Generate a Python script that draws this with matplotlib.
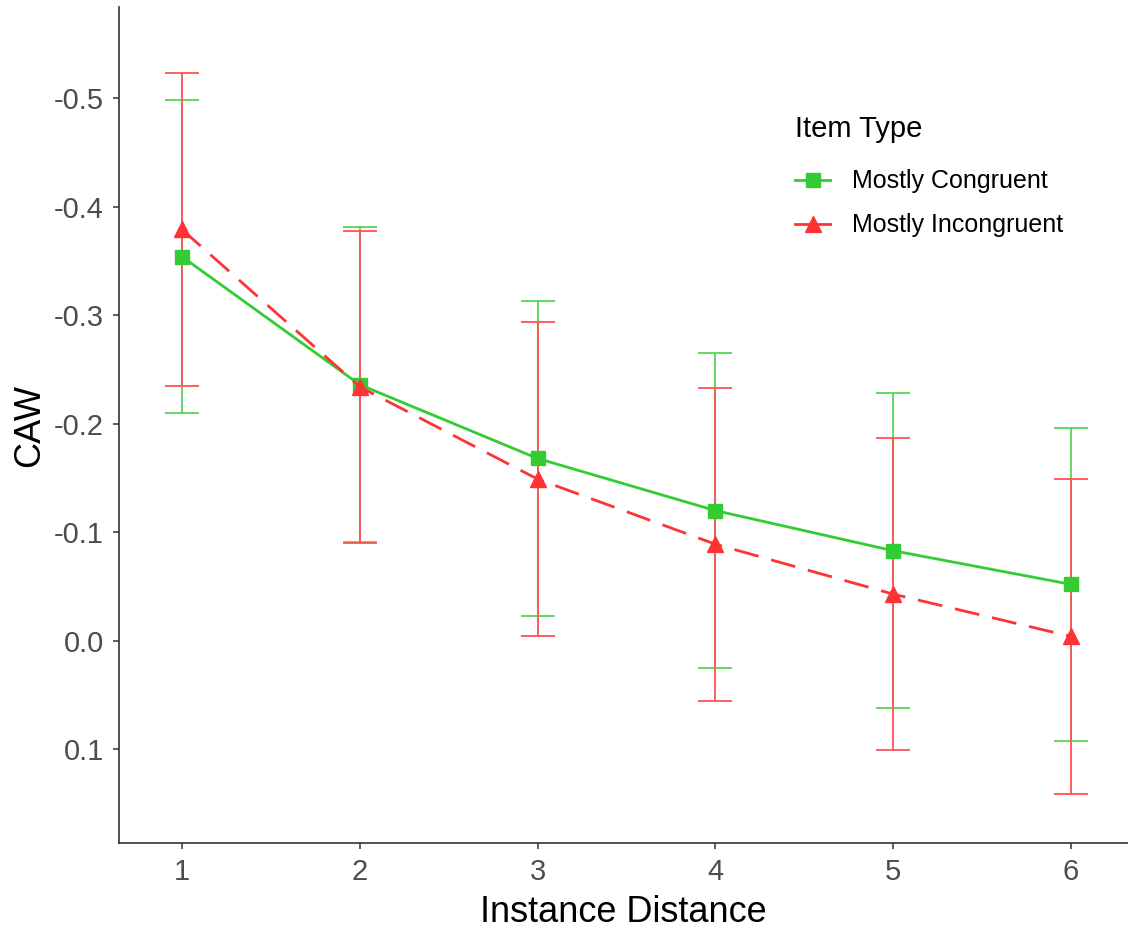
import numpy as np
import matplotlib
matplotlib.use("Agg")
import matplotlib.pyplot as plt
from matplotlib.lines import Line2D

plt.rcParams['font.family'] = ['Liberation Sans', 'DejaVu Sans']

# data (y axis is reversed)
distance = [1, 2, 3, 4, 5, 6]
tick_labels = ["-0.5", "-0.4", "-0.3", "-0.2", "-0.1", "0.0", "0.1"]
tick_values = [-0.5, -0.4, -0.3, -0.2, -0.1, 0.0, 0.1]

congruent_mean = [-0.354, -0.236, -0.168, -0.120, -0.083, -0.052]
congruent_err = [0.144, 0.145, 0.145, 0.145, 0.145, 0.144]
incongruent_mean = [-0.379, -0.234, -0.149, -0.089, -0.043, -0.004]
incongruent_err = [0.144, 0.144, 0.145, 0.144, 0.144, 0.145]

green = "#33CC33"
red = "#FF3333"
green_bar = "#55D555"
red_bar = "#FF5252"

fig = plt.figure(figsize=(11.28, 9.3), dpi=100)
ax = fig.add_axes([119/1128, 87/930, 1 - 119/1128, 836/930])

ax.errorbar(distance, congruent_mean, yerr=congruent_err, fmt="none",
            ecolor=green_bar, elinewidth=1.3, capsize=12, capthick=1.3)
ax.errorbar(distance, incongruent_mean, yerr=incongruent_err, fmt="none",
            ecolor=red_bar, elinewidth=1.3, capsize=12, capthick=1.3)

ax.plot(distance, congruent_mean, color=green, lw=2, marker="s", ms=10.5)
ax.plot(distance, incongruent_mean, color=red, lw=2, marker="^", ms=12,
        dashes=(9, 4.7))

ax.set_xlim(0.646, 6.32)
ax.set_ylim(0.1863, -0.584)
ax.set_xticks(distance)
ax.set_yticks(tick_values)
ax.set_yticklabels(tick_labels)

for s in ["top", "right"]:
    ax.spines[s].set_visible(False)
for s in ["left", "bottom"]:
    ax.spines[s].set_color("#333333")
    ax.spines[s].set_linewidth(1.2)
ax.tick_params(axis="both", length=4, width=1.1, color="#333333",
               labelcolor="#4D4D4D", labelsize=21, pad=7)

ax.set_xlabel("Instance Distance", fontsize=26, color="black", labelpad=6)
ax.set_ylabel("CAW", fontsize=26, color="black", labelpad=5)

handles = [
    Line2D([], [], color=green, lw=2, marker="s", ms=10.5),
    Line2D([], [], color=red, lw=2, marker="^", ms=12),
]
leg = fig.legend(handles, ["Mostly Congruent", "Mostly Incongruent"],
                 title="Item Type", loc="upper left",
                 bbox_to_anchor=(795/1128, 1 - 115/930),
                 frameon=False, fontsize=18, title_fontsize=21,
                 handlelength=1.4, handletextpad=0.9, labelspacing=0.8,
                 borderpad=0, borderaxespad=0, alignment="left")
leg._legend_box.sep = 19

fig.savefig("out.png", dpi=100)
